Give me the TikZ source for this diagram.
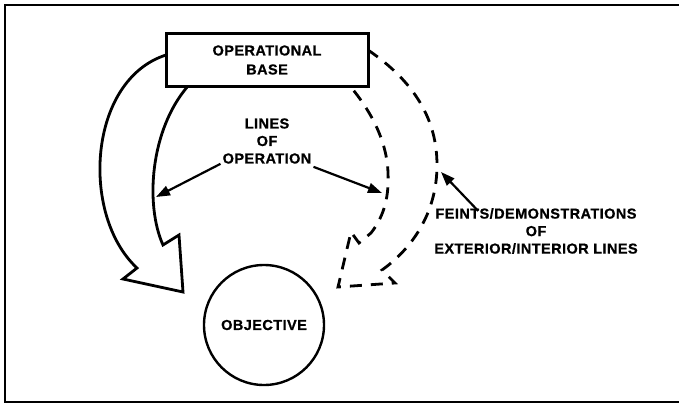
\documentclass[tikz,border=0pt]{standalone}
\usepackage{fontspec}
\newfontfamily\lblfont{Liberation Sans}[LetterSpace=3, BoldFeatures={FakeBold=0.8}]
\usetikzlibrary{arrows.meta}

\tikzset{
  lbl/.style={font=\lblfont\bfseries\fontsize{14.5}{17.5}\selectfont, align=center, inner sep=0pt},
  basebox/.style={draw, line width=3pt, fill=white, minimum width=202pt, minimum height=52pt,
    inner sep=0pt, align=center, font=\lblfont\bfseries\fontsize{14.5}{19}\selectfont},
  goalcircle/.style={draw, circle, line width=2.4pt, minimum size=120pt, inner sep=0pt,
    font=\lblfont\bfseries\fontsize{14.5}{17.5}\selectfont},
  mainline/.style={line width=2.8pt, line join=miter},
  feintline/.style={line width=2.8pt, dash pattern=on 12pt off 9pt, line join=miter},
  ptr/.style={line width=2.2pt, -{Triangle[length=14pt,width=10pt]}},
  frame/.style={line width=2pt}
}

\begin{document}
\begin{tikzpicture}[x=1pt, y=-1pt]
  \useasboundingbox (0,0) rectangle (679,404);
  \draw[frame] (4.5,5.5) rectangle (690,402);

  % solid line of operation (hollow curved arrow)
  \draw[mainline]
    (166,55) .. controls (88,80) and (80,215) .. (137,268)
    -- (123,279) -- (183,292) -- (179,235) -- (163,245)
    .. controls (145,205) and (150,130) .. (188,86);

  % dashed feint (hollow curved arrow)
  \draw[feintline]
    (368,50) .. controls (415,82) and (437,120) .. (437,165)
    .. controls (437,215) and (410,250) .. (382,270)
    -- (395,283) -- (338,287) -- (351,232) -- (359,243) -- (371,233)
    .. controls (385,215) and (389,195) .. (388,173)
    .. controls (387,140) and (370,110) .. (350,86);

  \node[basebox] (base) at (267,60) {OPERATIONAL\\BASE};
  \node[goalcircle] (obj) at (264,325) {OBJECTIVE};

  \node[lbl] (loo) at (267,141) {LINES\\OF\\OPERATION};
  \node[lbl] (feint) at (536,231) {FEINTS/DEMONSTRATIONS\\OF\\EXTERIOR/INTERIOR LINES};

  \coordinate (hitL) at (156,197);
  \coordinate (hitR) at (382,193);
  \coordinate (hitF) at (441,172);

  \draw[ptr] ([xshift=-2pt]loo.south west) -- (hitL);
  \draw[ptr] ([xshift=2pt,yshift=-3pt]loo.south east) -- (hitR);
  \draw[ptr] ([xshift=44pt,yshift=-3pt]feint.north west) -- (hitF);
\end{tikzpicture}
\end{document}
